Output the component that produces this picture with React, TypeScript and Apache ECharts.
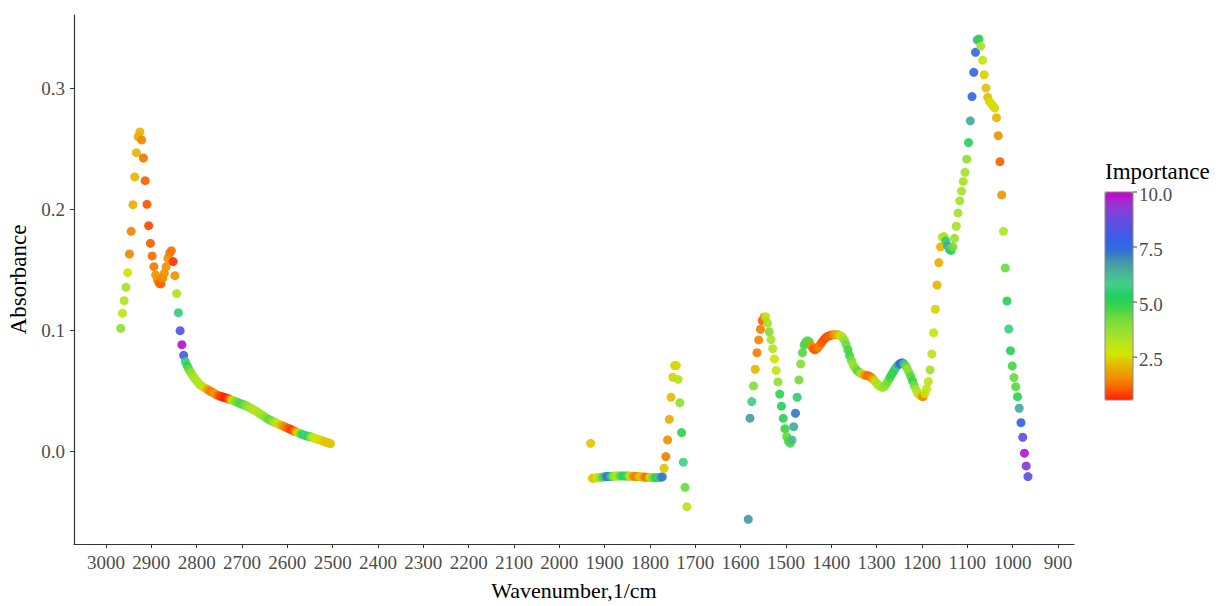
import React, { useEffect, useRef } from "react";
import * as echarts from "echarts";

// ---- C-H stretch region (2970 - 2500 cm-1)
const CH_WAVE = [
  2967.6, 2963.7, 2959.9, 2956.0, 2952.2, 2948.3, 2944.5, 2940.6, 2936.7, 2932.9,
  2929.0, 2925.2, 2921.3, 2917.5, 2913.6, 2909.7, 2905.9, 2902.0, 2898.2, 2894.3,
  2890.5, 2886.6, 2882.7, 2878.9, 2875.0, 2871.2, 2867.3, 2863.5, 2859.6, 2855.7,
  2851.9, 2848.0, 2844.2, 2840.3, 2836.5, 2832.6, 2828.7, 2824.9,
  2821.0, 2817.2, 2813.3, 2809.5, 2805.6, 2801.7, 2797.9, 2794.0, 2790.2, 2786.3,
  2782.5, 2778.6, 2774.7, 2770.9, 2767.0, 2763.2, 2759.3, 2755.5, 2751.6, 2747.7,
  2743.9, 2740.0, 2736.2, 2732.3, 2728.5, 2724.6, 2720.7, 2716.9, 2713.0, 2709.2,
  2705.3, 2701.5, 2697.6, 2693.7, 2689.9, 2686.0, 2682.2, 2678.3, 2674.5, 2670.6,
  2666.7, 2662.9, 2659.0, 2655.2, 2651.3, 2647.5, 2643.6, 2639.7, 2635.9, 2632.0,
  2628.2, 2624.3, 2620.5, 2616.6, 2612.7, 2608.9, 2605.0, 2601.2, 2597.3, 2593.5,
  2589.6, 2585.7, 2581.9, 2578.0, 2574.2, 2570.3, 2566.5, 2562.6, 2558.7, 2554.9,
  2551.0, 2547.2, 2543.3, 2539.5, 2535.6, 2531.7, 2527.9, 2524.0, 2520.2, 2516.3,
  2512.5, 2508.6, 2504.7,
];
const CH_ABS = [
  0.1018, 0.1142, 0.1246, 0.1356, 0.1477, 0.1631, 0.1818, 0.2038, 0.2267, 0.2467,
  0.2599, 0.2638, 0.2572, 0.2423, 0.2236, 0.2041, 0.1865, 0.1719, 0.1615, 0.1526,
  0.1458, 0.1417, 0.1389, 0.1384, 0.1431, 0.1472, 0.1526, 0.1596, 0.1637, 0.1658,
  0.1568, 0.1452, 0.1304, 0.1147, 0.0998, 0.0883, 0.0795, 0.0743,
  0.0708, 0.0680, 0.0656, 0.0632, 0.0610, 0.0592, 0.0576, 0.0556, 0.0545, 0.0535,
  0.0526, 0.0518, 0.0510, 0.0501, 0.0493, 0.0485, 0.0477, 0.0468, 0.0462, 0.0457,
  0.0452, 0.0448, 0.0444, 0.0440, 0.0434, 0.0429, 0.0423, 0.0418, 0.0412, 0.0406,
  0.0400, 0.0394, 0.0389, 0.0383, 0.0377, 0.0370, 0.0362, 0.0354, 0.0346, 0.0338,
  0.0329, 0.0319, 0.0310, 0.0300, 0.0291, 0.0281, 0.0272, 0.0264, 0.0257, 0.0249,
  0.0242, 0.0236, 0.0229, 0.0223, 0.0216, 0.0210, 0.0204, 0.0198, 0.0191, 0.0185,
  0.0178, 0.0172, 0.0166, 0.0159, 0.0153, 0.0147, 0.0141, 0.0136, 0.0132, 0.0128,
  0.0125, 0.0120, 0.0115, 0.0110, 0.0106, 0.0101, 0.0097, 0.0091, 0.0086, 0.0081,
  0.0076, 0.0071, 0.0067,
];
const CH_IMP = [
  3.8, 2.9, 3.3, 3.4, 2.8, 1.5, 1.45, 2.0, 2.1, 2.1,
  2.0, 2.1, 1.5, 1.3, 1.1, 1.0, 0.9, 1.05, 1.2, 1.35,
  1.6, 1.6, 1.2, 1.1, 1.5, 1.6, 1.6, 1.6, 1.5, 1.3,
  0.7, 1.6, 3.3, 5.6, 8.3, 9.8, 8.0, 5.6,
  5.0, 4.4, 4.0, 3.6, 3.4, 3.3, 3.2, 3.3, 3.2, 3.0,
  2.8, 2.3, 1.8, 1.4, 1.3, 1.5, 1.8, 1.5, 1.1, 0.9,
  0.8, 0.6, 0.6, 0.7, 1.0, 1.8, 3.0, 3.6, 4.0, 4.3,
  4.5, 4.6, 4.5, 4.3, 4.0, 3.7, 3.5, 3.4, 3.3, 3.2,
  3.2, 3.3, 3.4, 3.5, 3.7, 3.9, 4.2, 4.4, 4.3, 4.0,
  3.6, 3.2, 2.8, 2.5, 2.1, 1.8, 1.5, 1.3, 1.1, 0.9,
  0.8, 1.0, 1.5, 2.3, 3.2, 4.2, 5.0, 5.6, 5.8, 5.4,
  4.6, 3.8, 3.2, 2.9, 2.7, 2.6, 2.5, 2.5, 2.4, 2.3,
  2.3, 2.2, 2.3,
];

// ---- carbonyl region (1930 - 1720 cm-1)
const CO_WAVE = [
  1930.8,
  1927.0, 1923.1, 1919.3, 1915.4, 1911.6, 1907.7, 1903.8, 1900.0, 1896.1, 1892.3,
  1888.4, 1884.6, 1880.7, 1876.8, 1873.0, 1869.1, 1865.3, 1861.4, 1857.6, 1853.7,
  1849.8, 1846.0, 1842.1, 1838.3, 1834.4, 1830.6, 1826.7, 1822.8, 1819.0, 1815.1,
  1811.3, 1807.4, 1803.6, 1799.7, 1795.8, 1792.0, 1788.1, 1784.3, 1780.4, 1776.6,
  1772.7,
  1768.8, 1765.0, 1761.1, 1757.3, 1753.4, 1749.6, 1745.7, 1741.8, 1738.0, 1734.1,
  1730.3, 1726.4, 1722.6, 1718.7,
];
const CO_ABS = [
  0.0069,
  -0.0220, -0.0219, -0.0217, -0.0215, -0.0213, -0.0211, -0.0209, -0.0207, -0.0206, -0.0205,
  -0.0204, -0.0203, -0.0202, -0.0201, -0.0201, -0.0200, -0.0200, -0.0200, -0.0200, -0.0200,
  -0.0201, -0.0201, -0.0202, -0.0203, -0.0204, -0.0205, -0.0206, -0.0207, -0.0208, -0.0209,
  -0.0210, -0.0211, -0.0212, -0.0213, -0.0214, -0.0215, -0.0215, -0.0215, -0.0214, -0.0212,
  -0.0208,
  -0.0137, -0.0041, 0.0097, 0.0267, 0.0449, 0.0614, 0.0710, 0.0710, 0.0597, 0.0404,
  0.0157, -0.0087, -0.0294, -0.0454,
];
const CO_IMP = [
  2.3,
  2.3, 2.3, 2.4, 2.8, 3.3, 3.8, 4.5, 5.5, 7.0, 7.4,
  6.8, 5.2, 4.0, 3.5, 3.3, 3.6, 4.3, 4.8, 5.2, 5.5,
  4.8, 3.8, 3.0, 2.0, 1.5, 1.4, 1.6, 2.1, 2.5, 2.0,
  1.5, 1.2, 1.5, 2.6, 3.5, 4.3, 4.8, 5.2, 5.6, 6.4,
  7.2,
  2.3, 1.4, 1.6, 2.0, 2.2, 2.4, 2.4, 2.5, 3.2, 3.8,
  5.0, 5.8, 4.3, 3.1,
];

// ---- fingerprint region (1585 - 965 cm-1)
const FP_WAVE = [
  1583.1,
  1579.3, 1575.4, 1571.6, 1567.7, 1563.9, 1560.0, 1556.2, 1552.3, 1548.4, 1544.6,
  1540.7, 1536.9, 1533.0, 1529.2, 1525.3, 1521.4, 1517.6, 1513.7, 1509.9, 1506.0,
  1502.2, 1498.3, 1494.5, 1490.6, 1486.7, 1482.9, 1479.0, 1475.2, 1471.3, 1467.5,
  1463.6, 1459.8, 1455.9, 1452.0, 1448.2, 1444.3, 1440.5, 1436.6, 1432.8, 1428.9,
  1425.0, 1421.2, 1417.3, 1413.5, 1409.6, 1405.8, 1401.9, 1398.0, 1394.2, 1390.3,
  1386.5, 1382.6, 1378.8, 1374.9, 1371.0, 1367.2, 1363.3, 1359.5, 1355.6, 1351.8,
  1347.9, 1344.0, 1340.2, 1336.3, 1332.5, 1328.6, 1324.8, 1320.9, 1317.0, 1313.2,
  1309.3, 1305.5, 1301.6, 1297.8, 1293.9, 1290.0, 1286.2, 1282.3, 1278.5, 1274.6,
  1270.8, 1266.9, 1263.0, 1259.2, 1255.3, 1251.5, 1247.6, 1243.8, 1239.9, 1236.0,
  1232.2, 1228.3, 1224.5, 1220.6, 1216.8, 1212.9, 1209.0, 1205.2, 1201.3, 1197.5,
  1193.6, 1189.8, 1185.9, 1182.1, 1178.2, 1174.3, 1170.5, 1166.6, 1162.8, 1158.9,
  1155.1, 1151.2, 1147.3, 1143.5, 1139.6, 1135.8, 1131.9, 1128.1, 1124.2, 1120.3,
  1116.5, 1112.6, 1108.8, 1104.9, 1101.1, 1097.2, 1093.3, 1089.5, 1085.6, 1081.8,
  1077.9, 1074.1, 1070.2, 1066.3, 1062.5, 1058.6, 1054.8, 1050.9, 1047.1, 1043.2,
  1039.3, 1035.5, 1031.6, 1027.8, 1023.9, 1020.1, 1016.2, 1012.3, 1008.5, 1004.6,
  1000.8, 996.9, 993.1, 989.2, 985.3, 981.5, 977.6, 973.8, 969.9, 966.1,
];
const FP_ABS = [
  -0.0558,
  0.0276, 0.0413, 0.0542, 0.0680, 0.0817, 0.0922, 0.1010, 0.1081, 0.1110, 0.1114,
  0.1060, 0.0990, 0.0925, 0.0850, 0.0765, 0.0670, 0.0575, 0.0475, 0.0375, 0.0275,
  0.0190, 0.0125, 0.0085, 0.0070, 0.0097, 0.0206, 0.0317, 0.0449, 0.0592, 0.0724,
  0.0817, 0.0880, 0.0905, 0.0916, 0.0905, 0.0875, 0.0852, 0.0840, 0.0848, 0.0862,
  0.0880, 0.0900, 0.0920, 0.0936, 0.0948, 0.0955, 0.0960, 0.0963, 0.0965, 0.0965,
  0.0965, 0.0962, 0.0955, 0.0942, 0.0920, 0.0885, 0.0840, 0.0792, 0.0752, 0.0718,
  0.0692, 0.0674, 0.0660, 0.0649, 0.0641, 0.0634, 0.0630, 0.0628, 0.0624, 0.0616,
  0.0604, 0.0589, 0.0572, 0.0556, 0.0542, 0.0533, 0.0531, 0.0540, 0.0560, 0.0585,
  0.0610, 0.0635, 0.0660, 0.0685, 0.0703, 0.0718, 0.0728, 0.0733, 0.0726, 0.0708,
  0.0684, 0.0654, 0.0620, 0.0584, 0.0546, 0.0510, 0.0482, 0.0466, 0.0458, 0.0454,
  0.0480, 0.0520, 0.0578, 0.0674, 0.0806, 0.0982, 0.1175, 0.1375, 0.1560, 0.1690,
  0.1770, 0.1775, 0.1740, 0.1700, 0.1670, 0.1660, 0.1690, 0.1760, 0.1860, 0.1970,
  0.2070, 0.2150, 0.2230, 0.2305, 0.2413, 0.2550, 0.2730, 0.2930, 0.3130, 0.3295,
  0.3397, 0.3405, 0.3347, 0.3230, 0.3110, 0.3000, 0.2924, 0.2890, 0.2870, 0.2852,
  0.2835, 0.2756, 0.2607, 0.2393, 0.2118, 0.1818, 0.1516, 0.1243, 0.1012, 0.0833,
  0.0707, 0.0611, 0.0536, 0.0454, 0.0358, 0.0239, 0.0119, -0.0013, -0.0118, -0.0206,
];
const FP_IMP = [
  6.8,
  6.7, 5.7, 4.0, 2.1, 1.4, 1.5, 1.4, 1.1, 1.4, 3.0,
  3.5, 4.0, 3.4, 3.2, 2.7, 3.0, 3.8, 5.0, 5.2, 5.0,
  4.8, 4.4, 4.5, 4.6, 6.2, 6.5, 7.2, 5.5, 4.2, 4.0,
  4.5, 4.7, 4.6, 4.5, 4.5, 1.6, 1.2, 1.0, 1.1, 1.4,
  1.4, 1.1, 1.0, 0.9, 1.0, 1.1, 1.0, 1.2, 1.5, 1.8,
  2.0, 2.2, 2.7, 3.3, 3.8, 4.3, 4.7, 4.7, 4.2, 3.6,
  3.8, 4.2, 4.5, 4.0, 3.0, 2.2, 1.6, 1.3, 1.2, 1.3,
  1.6, 2.2, 3.0, 3.4, 3.3, 3.2, 3.5, 3.8, 4.0, 4.2,
  4.6, 5.0, 4.8, 5.2, 5.8, 6.8, 7.5, 7.6, 6.2, 4.5,
  3.8, 4.0, 4.5, 4.8, 4.2, 3.5, 3.1, 2.8, 2.2, 1.5,
  2.8, 3.0, 3.0, 3.5, 3.0, 2.8, 2.4, 2.1, 2.0, 2.1,
  2.6, 3.3, 5.5, 6.5, 6.0, 5.2, 4.2, 3.6, 3.4, 3.5,
  3.5, 3.4, 3.4, 3.5, 3.8, 5.1, 6.5, 7.6, 7.6, 7.4,
  6.4, 5.0, 3.5, 2.9, 2.4, 2.2, 2.2, 2.5, 2.6, 2.6,
  2.5, 2.1, 1.6, 1.1, 1.7, 3.2, 4.3, 5.1, 5.7, 5.1,
  4.6, 4.3, 4.5, 5.0, 6.5, 7.8, 8.7, 9.7, 9.2, 8.5,
];

const X_TICKS = [3000, 2900, 2800, 2700, 2600, 2500, 2400, 2300, 2200, 2100, 2000, 1900, 1800, 1700, 1600, 1500, 1400, 1300, 1200, 1100, 1000, 900];
const Y_TICKS = [0, 0.1, 0.2, 0.3];
const LEGEND_TICKS = [2.5, 5.0, 7.5, 10.0];
const IMP_MIN = 0.55;
const IMP_MAX = 10;
const RAINBOW = [
  "#ff2000", "#f86000", "#f09200", "#e6b800", "#d2e600", "#b4e420", "#96e030",
  "#74dc3c", "#3cd448", "#20d060", "#42d088", "#48b498", "#4494aa", "#2f6ed8",
  "#3a5eea", "#5652e2", "#7646dc", "#9c30d4", "#cc00cc",
];

const FONT = "'Liberation Serif', 'DejaVu Serif', serif";

function zip(w: number[], a: number[], imp: number[]) {
  const n = Math.min(w.length, a.length, imp.length);
  const out: number[][] = [];
  for (let i = 0; i < n; i++) out.push([w[i], a[i], imp[i]]);
  return out;
}

export default function App() {
  const ref = useRef<HTMLDivElement>(null);
  useEffect(() => {
    if (!ref.current) return;
    const chart = echarts.init(ref.current, null, { renderer: "svg" });
    const data = [
      ...zip(CH_WAVE, CH_ABS, CH_IMP),
      ...zip(CO_WAVE, CO_ABS, CO_IMP),
      ...zip(FP_WAVE, FP_ABS, FP_IMP),
    ];
    const barLeft = 1105;
    const barTop = 192;
    const barW = 28;
    const barH = 208;
    const yOf = (v: number) => barTop + ((IMP_MAX - v) / (IMP_MAX - IMP_MIN)) * barH;
    const graphic: any[] = [
      {
        type: "text",
        x: barLeft,
        y: barTop - 9,
        z: 100,
        style: { text: "Importance", fontFamily: FONT, fontSize: 23, fill: "#000", verticalAlign: "bottom", align: "left" },
      },
      {
        type: "rect",
        z: 100,
        shape: { x: barLeft, y: barTop, width: barW, height: barH },
        style: { fill: "none", stroke: "#8a8a8a", lineWidth: 1 },
      },
    ];
    LEGEND_TICKS.forEach((t) => {
      const y = yOf(t);
      graphic.push({
        type: "line",
        z: 100,
        shape: { x1: barLeft + barW, y1: y, x2: barLeft + barW + 4, y2: y },
        style: { stroke: "#444", lineWidth: 1 },
      });
      graphic.push({
        type: "text",
        z: 100,
        x: barLeft + barW + 6,
        y: y + 2,
        style: { text: t.toFixed(1), fontFamily: FONT, fontSize: 19, fill: "#4d4d4d", verticalAlign: "middle", align: "left" },
      });
    });

    chart.setOption({
      animation: false,
      backgroundColor: "#ffffff",
      textStyle: { fontFamily: FONT },
      grid: { left: 74, right: 146, top: 15, bottom: 62, containLabel: false, outerBoundsMode: "none" },
      xAxis: {
        type: "value",
        inverse: true,
        min: 864.5,
        max: 3070.6,
        name: "Wavenumber,1/cm",
        nameLocation: "middle",
        nameGap: 35,
        nameTextStyle: { fontFamily: FONT, fontSize: 22, color: "#000" },
        axisLine: { show: true, onZero: false, lineStyle: { color: "#333", width: 1.2 } },
        axisTick: { show: true, length: 4, customValues: X_TICKS, lineStyle: { color: "#333", width: 1 } },
        axisLabel: {
          customValues: X_TICKS,
          fontFamily: FONT,
          fontSize: 19,
          color: "#4d4d4d",
          margin: 9,
          formatter: (v: number) => String(Math.round(v)),
        },
        splitLine: { show: false },
      },
      yAxis: {
        type: "value",
        min: -0.0762,
        max: 0.3603,
        name: "Absorbance",
        nameLocation: "middle",
        nameRotate: 90,
        nameGap: 38,
        nameTextStyle: { fontFamily: FONT, fontSize: 23, color: "#000" },
        axisLine: { show: true, onZero: false, lineStyle: { color: "#333", width: 1.2 } },
        axisTick: { show: true, length: 4, customValues: Y_TICKS, lineStyle: { color: "#333", width: 1 } },
        axisLabel: {
          customValues: Y_TICKS,
          fontFamily: FONT,
          fontSize: 19,
          color: "#4d4d4d",
          margin: 9,
          formatter: (v: number) => v.toFixed(1),
        },
        splitLine: { show: false },
      },
      visualMap: {
        type: "continuous",
        min: IMP_MIN,
        max: IMP_MAX,
        dimension: 2,
        seriesIndex: 0,
        calculable: false,
        show: true,
        orient: "vertical",
        left: barLeft,
        top: barTop,
        itemWidth: barW,
        itemHeight: barH,
        padding: 0,
        text: null,
        hoverLink: false,
        inRange: { color: RAINBOW },
      },
      series: [
        {
          type: "scatter",
          data,
          symbolSize: 9,
          itemStyle: { opacity: 0.92 },
          emphasis: { disabled: true },
        },
      ],
      graphic,
    });
    return () => chart.dispose();
  }, []);
  return <div ref={ref} style={{ position: "absolute", left: 0, top: 0, width: 1220, height: 606 }} />;
}
